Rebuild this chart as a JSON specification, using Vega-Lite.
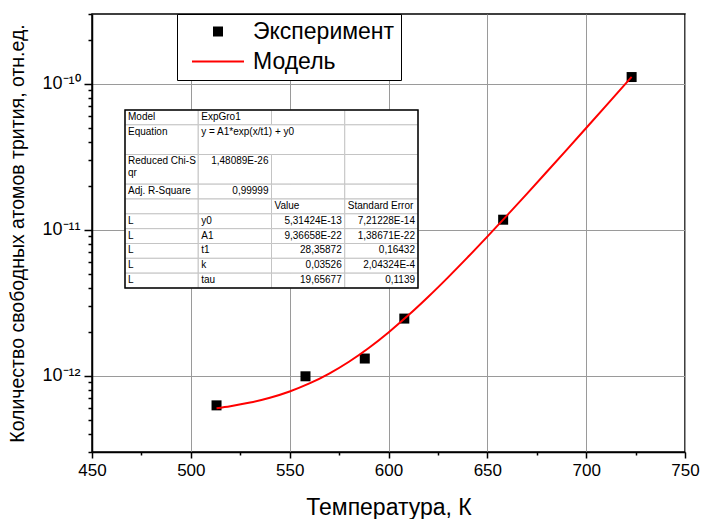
{
  "$schema": "https://vega.github.io/schema/vega-lite/v6.json",
  "width": 593,
  "height": 438,
  "autosize": {"type": "none"},
  "padding": {"left": 92, "top": 14, "right": 18, "bottom": 67},
  "background": "white",
  "config": {
    "font": "Liberation Sans",
    "view": {"stroke": "black", "strokeWidth": 1.5},
    "axis": {
      "domainColor": "black", "domainWidth": 1.5,
      "tickColor": "black", "tickWidth": 1.5,
      "gridColor": "#9a9a9a", "gridWidth": 1,
      "labelColor": "black", "titleColor": "black",
      "labelFont": "Liberation Sans", "titleFont": "Liberation Sans",
      "titleFontWeight": "normal"
    }
  },
  "datasets": {
    "exp": [
      {"T": 513, "N": 6.26e-13, "s": "Эксперимент"},
      {"T": 558, "N": 9.9e-13, "s": "Эксперимент"},
      {"T": 588, "N": 1.31e-12, "s": "Эксперимент"},
      {"T": 608, "N": 2.46e-12, "s": "Эксперимент"},
      {"T": 658, "N": 1.17e-11, "s": "Эксперимент"},
      {"T": 723, "N": 1.11e-10, "s": "Эксперимент"}
    ],
    "model": [
      {"T": 513, "N": 5.987e-13}, {"T": 520, "N": 6.175e-13}, {"T": 530, "N": 6.539e-13},
      {"T": 540, "N": 7.057e-13}, {"T": 550, "N": 7.794e-13}, {"T": 560, "N": 8.843e-13},
      {"T": 570, "N": 1.0335e-12}, {"T": 580, "N": 1.2457e-12}, {"T": 590, "N": 1.5477e-12},
      {"T": 600, "N": 1.9776e-12}, {"T": 610, "N": 2.5889e-12}, {"T": 620, "N": 3.4588e-12},
      {"T": 630, "N": 4.6963e-12}, {"T": 640, "N": 6.4578e-12}, {"T": 650, "N": 8.9631e-12},
      {"T": 660, "N": 1.2528e-11}, {"T": 670, "N": 1.76e-11}, {"T": 680, "N": 2.4817e-11},
      {"T": 690, "N": 3.5084e-11}, {"T": 700, "N": 4.9692e-11}, {"T": 710, "N": 7.0476e-11},
      {"T": 723, "N": 1.1115e-10}
    ],
    "cells": [
      {"c": 0, "c2": 1, "r": 0, "r2": 1}, {"c": 1, "c2": 2, "r": 0, "r2": 1}, {"c": 2, "c2": 3, "r": 0, "r2": 1}, {"c": 3, "c2": 4, "r": 0, "r2": 1},
      {"c": 0, "c2": 1, "r": 1, "r2": 3}, {"c": 1, "c2": 3, "r": 1, "r2": 3}, {"c": 3, "c2": 4, "r": 1, "r2": 3},
      {"c": 0, "c2": 1, "r": 3, "r2": 5}, {"c": 1, "c2": 2, "r": 3, "r2": 5}, {"c": 2, "c2": 3, "r": 3, "r2": 5}, {"c": 3, "c2": 4, "r": 3, "r2": 5},
      {"c": 0, "c2": 1, "r": 5, "r2": 6}, {"c": 1, "c2": 2, "r": 5, "r2": 6}, {"c": 2, "c2": 3, "r": 5, "r2": 6}, {"c": 3, "c2": 4, "r": 5, "r2": 6},
      {"c": 0, "c2": 1, "r": 6, "r2": 7}, {"c": 1, "c2": 2, "r": 6, "r2": 7}, {"c": 2, "c2": 3, "r": 6, "r2": 7}, {"c": 3, "c2": 4, "r": 6, "r2": 7},
      {"c": 0, "c2": 1, "r": 7, "r2": 8}, {"c": 1, "c2": 2, "r": 7, "r2": 8}, {"c": 2, "c2": 3, "r": 7, "r2": 8}, {"c": 3, "c2": 4, "r": 7, "r2": 8},
      {"c": 0, "c2": 1, "r": 8, "r2": 9}, {"c": 1, "c2": 2, "r": 8, "r2": 9}, {"c": 2, "c2": 3, "r": 8, "r2": 9}, {"c": 3, "c2": 4, "r": 8, "r2": 9},
      {"c": 0, "c2": 1, "r": 9, "r2": 10}, {"c": 1, "c2": 2, "r": 9, "r2": 10}, {"c": 2, "c2": 3, "r": 9, "r2": 10}, {"c": 3, "c2": 4, "r": 9, "r2": 10},
      {"c": 0, "c2": 1, "r": 10, "r2": 11}, {"c": 1, "c2": 2, "r": 10, "r2": 11}, {"c": 2, "c2": 3, "r": 10, "r2": 11}, {"c": 3, "c2": 4, "r": 10, "r2": 11},
      {"c": 0, "c2": 1, "r": 11, "r2": 12}, {"c": 1, "c2": 2, "r": 11, "r2": 12}, {"c": 2, "c2": 3, "r": 11, "r2": 12}, {"c": 3, "c2": 4, "r": 11, "r2": 12}
    ],
    "border": [{"c": 0, "c2": 4, "r": 0, "r2": 12}],
    "tbl": [
      {"c": 0, "r": 0, "t": "Model", "a": "l"}, {"c": 1, "r": 0, "t": "ExpGro1", "a": "l"},
      {"c": 0, "r": 1, "t": "Equation", "a": "l"}, {"c": 1, "r": 1, "t": "y = A1*exp(x/t1) + y0", "a": "l"},
      {"c": 0, "r": 3, "t": "Reduced Chi-S\nqr", "a": "l"}, {"c": 2, "r": 3, "t": "1,48089E-26", "a": "r"},
      {"c": 0, "r": 5, "t": "Adj. R-Square", "a": "l"}, {"c": 2, "r": 5, "t": "0,99999", "a": "r"},
      {"c": 2, "r": 6, "t": "Value", "a": "l"}, {"c": 3, "r": 6, "t": "Standard Error", "a": "l"},
      {"c": 0, "r": 7, "t": "L", "a": "l"}, {"c": 1, "r": 7, "t": "y0", "a": "l"}, {"c": 3, "r": 7, "t": "5,31424E-13", "a": "r"}, {"c": 4, "r": 7, "t": "7,21228E-14", "a": "r"},
      {"c": 0, "r": 8, "t": "L", "a": "l"}, {"c": 1, "r": 8, "t": "A1", "a": "l"}, {"c": 3, "r": 8, "t": "9,36658E-22", "a": "r"}, {"c": 4, "r": 8, "t": "1,38671E-22", "a": "r"},
      {"c": 0, "r": 9, "t": "L", "a": "l"}, {"c": 1, "r": 9, "t": "t1", "a": "l"}, {"c": 3, "r": 9, "t": "28,35872", "a": "r"}, {"c": 4, "r": 9, "t": "0,16432", "a": "r"},
      {"c": 0, "r": 10, "t": "L", "a": "l"}, {"c": 1, "r": 10, "t": "k", "a": "l"}, {"c": 3, "r": 10, "t": "0,03526", "a": "r"}, {"c": 4, "r": 10, "t": "2,04324E-4", "a": "r"},
      {"c": 0, "r": 11, "t": "L", "a": "l"}, {"c": 1, "r": 11, "t": "tau", "a": "l"}, {"c": 3, "r": 11, "t": "19,65677", "a": "r"}, {"c": 4, "r": 11, "t": "0,1139", "a": "r"}
    ]
  },
  "layer": [
    {
      "layer": [
        {
          "data": {"name": "exp"},
          "mark": {"type": "point", "filled": true, "opacity": 1, "size": 100, "strokeWidth": 0},
          "encoding": {
            "x": {
              "field": "T", "type": "quantitative",
              "scale": {"domain": [450, 750], "nice": false, "zero": false},
              "axis": {
                "values": [450, 475, 500, 525, 550, 575, 600, 625, 650, 675, 700, 725, 750],
                "labelExpr": "datum.value % 50 == 0 ? datum.label : ''",
                "title": "Температура, К",
                "titleFontSize": 23,
                "titlePadding": 18,
                "labelFontSize": 17,
                "labelPadding": 4,
                "labelFlush": false,
                "labelOverlap": false,
                "grid": true,
                "tickSize": {"condition": {"test": "datum.value % 50 == 0", "value": 6}, "value": 3},
                "gridOpacity": {"condition": {"test": "datum.value % 50 == 0", "value": 1}, "value": 0}
              }
            },
            "y": {
              "field": "N", "type": "quantitative",
              "scale": {"type": "log", "domain": [3e-13, 3e-10], "nice": false},
              "axis": {
                "values": [3e-13, 4e-13, 5e-13, 6e-13, 7e-13, 8e-13, 9e-13, 1e-12, 2e-12, 3e-12, 4e-12, 5e-12, 6e-12, 7e-12, 8e-12, 9e-12, 1e-11, 2e-11, 3e-11, 4e-11, 5e-11, 6e-11, 7e-11, 8e-11, 9e-11, 1e-10, 2e-10, 3e-10],
                "labelExpr": "abs(log(datum.value)/LN10 - round(log(datum.value)/LN10)) > 0.001 ? '' : (round(log(datum.value)/LN10) == -10 ? '10⁻¹⁰' : (round(log(datum.value)/LN10) == -11 ? '10⁻¹¹' : '10⁻¹²'))",
                "title": "Количество свободных атомов трития, отн.ед.",
                "titleFontSize": 19.5,
                "titlePadding": 14,
                "labelFontSize": 18,
                "labelPadding": 4,
                "labelFlush": false,
                "labelOverlap": false,
                "grid": true,
                "tickSize": {"condition": {"test": "abs(log(datum.value)/LN10 - round(log(datum.value)/LN10)) < 0.001", "value": 8}, "value": 4},
                "gridOpacity": {"condition": {"test": "abs(log(datum.value)/LN10 - round(log(datum.value)/LN10)) < 0.001", "value": 1}, "value": 0}
              }
            },
            "color": {
              "field": "s", "type": "nominal",
              "scale": {"domain": ["Эксперимент", "Модель"], "range": ["black", "#ff0000"]},
              "legend": {"title": null, "orient": "none", "legendX": 85, "legendY": 0, "padding": 6, "strokeColor": "black", "fillColor": "white", "symbolSize": 100, "symbolOffset": 23.5, "labelOffset": 23.5, "rowPadding": 6, "labelFontSize": 23, "labelFont": "Liberation Sans", "labelColor": "black", "symbolStrokeWidth": 0, "symbolOpacity": 1, "labelLimit": 300}
            },
            "shape": {
              "field": "s", "type": "nominal",
              "scale": {"domain": ["Эксперимент", "Модель"], "range": ["square", "M-5.2,-0.2H5.2V0.2H-5.2Z"]},
              "legend": {"title": null, "orient": "none", "legendX": 85, "legendY": 0, "padding": 6, "strokeColor": "black", "fillColor": "white", "symbolSize": 100, "symbolOffset": 23.5, "labelOffset": 23.5, "rowPadding": 6, "labelFontSize": 23, "labelFont": "Liberation Sans", "labelColor": "black", "symbolStrokeWidth": 0, "symbolOpacity": 1, "labelLimit": 300}
            }
          }
        },
        {
          "data": {"name": "model"},
          "mark": {"type": "line", "color": "#ff0000", "strokeWidth": 2, "interpolate": "monotone"},
          "encoding": {
            "x": {"field": "T", "type": "quantitative", "scale": {"domain": [450, 750], "nice": false, "zero": false}},
            "y": {"field": "N", "type": "quantitative", "scale": {"type": "log", "domain": [3e-13, 3e-10], "nice": false}}
          }
        }
      ]
    },
    {
      "encoding": {
        "x": {"field": "c", "type": "quantitative", "scale": {"domain": [-0.4505, 7.645], "nice": false, "zero": false}, "axis": null},
        "y": {"field": "r", "type": "quantitative", "scale": {"domain": [-6.472, 23.057], "nice": false, "zero": false, "reverse": true}, "axis": null}
      },
      "layer": [
        {
          "data": {"name": "cells"},
          "mark": {"type": "rect", "fill": "white", "stroke": "#c4c4c4", "strokeWidth": 1},
          "encoding": {"x2": {"field": "c2"}, "y2": {"field": "r2"}}
        },
        {
          "data": {"name": "border"},
          "mark": {"type": "rect", "fill": null, "stroke": "black", "strokeWidth": 1.5},
          "encoding": {"x2": {"field": "c2"}, "y2": {"field": "r2"}}
        },
        {
          "data": {"name": "tbl"},
          "transform": [{"filter": "datum.a == 'l'"}],
          "mark": {"type": "text", "align": "left", "baseline": "top", "dx": 3, "dy": 2, "fontSize": 10, "font": "Liberation Sans", "color": "black", "lineBreak": "\n"},
          "encoding": {"text": {"field": "t"}}
        },
        {
          "data": {"name": "tbl"},
          "transform": [{"filter": "datum.a == 'r'"}],
          "mark": {"type": "text", "align": "right", "baseline": "top", "dx": -3, "dy": 2, "fontSize": 10, "font": "Liberation Sans", "color": "black", "lineBreak": "\n"},
          "encoding": {"text": {"field": "t"}}
        }
      ]
    }
  ],
  "resolve": {"scale": {"x": "independent", "y": "independent"}}
}
